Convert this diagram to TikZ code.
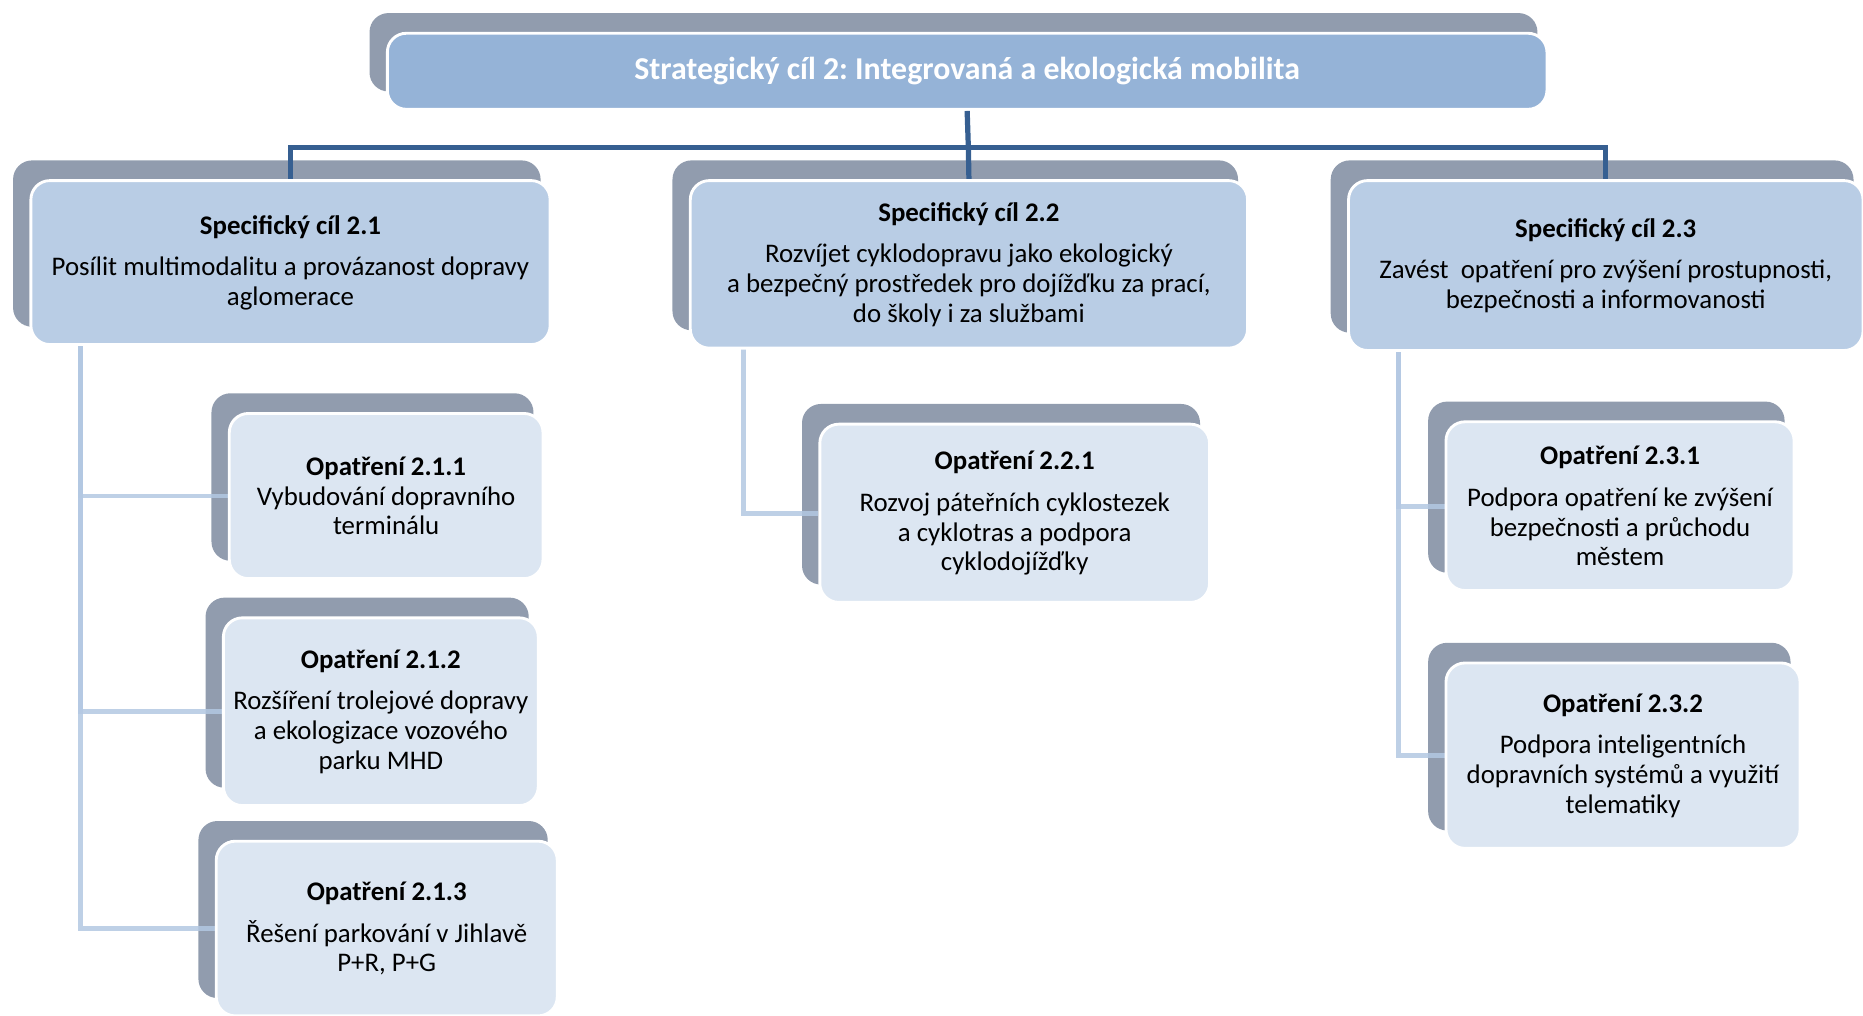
\documentclass[tikz,border=0pt]{standalone}
\usepackage{fontspec}
\setmainfont{Carlito}
\frenchspacing
\pgfdeclarelayer{shadowlayer}
\pgfdeclarelayer{connlayer}
\pgfsetlayers{shadowlayer,connlayer,main}
\definecolor{shadowc}{HTML}{919CAE}
\definecolor{titlefill}{HTML}{95B3D7}
\definecolor{scfill}{HTML}{B9CDE5}
\definecolor{opfill}{HTML}{DCE6F2}
\definecolor{darkline}{HTML}{365F91}
\definecolor{lightline}{HTML}{B3C8E2}
\tikzset{
  boxbase/.style={draw=white, line width=1.2pt, rounded corners=8pt, align=center, inner sep=2pt,
    font=\fontsize{11.3}{12.5}\selectfont},
  darkconn/.style={draw=darkline, line width=2.2pt},
  lightconn/.style={draw=lightline, line width=2pt, opacity=0.85},
}
\newcommand\stratbox[7]{%
  \begin{pgfonlayer}{shadowlayer}
    \fill[shadowc, rounded corners=8pt] ({#2-15},{#3-17}) rectangle ({#4-8},{#5-15});
  \end{pgfonlayer}
  \node[boxbase, fill=#6, minimum width={(#4-#2)*0.5pt}, minimum height={(#5-#3)*0.5pt}]
    (#1) at ({(#2+#4)/2},{(#3+#5)/2}) {#7};
}
\begin{document}
\begin{tikzpicture}[x=0.5pt, y=-0.5pt]
\useasboundingbox (0,0) rectangle (1568,855);
% title
\stratbox{title}{326}{28}{1302}{92}{titlefill}{\textcolor{white}{\bfseries\fontsize{13.4}{15}\selectfont Strategický cíl 2: Integrovaná a ekologická mobilita}}
% specific goals
\stratbox{sc21}{26}{152}{463}{290}{scfill}{\textbf{Specifický cíl 2.1}\\[5pt]Posílit multimodalitu a provázanost dopravy\\aglomerace}
\stratbox{sc22}{581}{152}{1050}{293}{scfill}{\textbf{Specifický cíl 2.2}\\[5pt]Rozvíjet cyklodopravu jako ekologický\\a bezpečný prostředek pro dojížďku za prací,\\do školy i za službami}
\stratbox{sc23}{1135}{152}{1568}{295}{scfill}{\textbf{Specifický cíl 2.3}\\[5pt]Zavést\ \ opatření pro zvýšení prostupnosti,\\bezpečnosti a informovanosti}
% measures
\stratbox{o211}{193}{348}{457}{487}{opfill}{\textbf{Opatření 2.1.1}\\Vybudování dopravního\\terminálu}
\stratbox{o212}{188}{520}{453}{678}{opfill}{\textbf{Opatření 2.1.2}\\[5pt]Rozšíření trolejové dopravy\\a ekologizace vozového\\parku MHD}
\stratbox{o213}{182}{708}{469}{855}{opfill}{\textbf{Opatření 2.1.3}\\[5pt]Řešení parkování v Jihlavě\\P+R, P+G}
\stratbox{o221}{690}{357}{1018}{507}{opfill}{\textbf{Opatření 2.2.1}\\[5pt]Rozvoj páteřních cyklostezek\\a cyklotras a podpora\\cyklodojížďky}
\stratbox{o231}{1217}{355}{1510}{497}{opfill}{\textbf{Opatření 2.3.1}\\[5pt]Podpora opatření ke zvýšení\\bezpečnosti a průchodu\\městem}
\stratbox{o232}{1217}{558}{1515}{714}{opfill}{\textbf{Opatření 2.3.2}\\[5pt]Podpora inteligentních\\dopravních systémů a využití\\telematiky}
% connectors
\coordinate (hub) at (815,124);
\coordinate (t21) at (68,290);
\coordinate (t22) at (626,293);
\coordinate (t23) at (1177,295);
\begin{pgfonlayer}{connlayer}
  \draw[darkconn] (title.south) -- (hub);
  \draw[darkconn] (sc21.north) |- (hub) -| (sc23.north);
  \draw[darkconn] (hub) -- (sc22.north);
  \draw[lightconn] (t21) |- (o211.west);
  \draw[lightconn] (t21) |- (o212.west);
  \draw[lightconn] (t21) |- (o213.west);
  \draw[lightconn] (t22) |- (o221.west);
  \draw[lightconn] (t23) |- (o231.west);
  \draw[lightconn] (t23) |- (o232.west);
\end{pgfonlayer}
\end{tikzpicture}
\end{document}
